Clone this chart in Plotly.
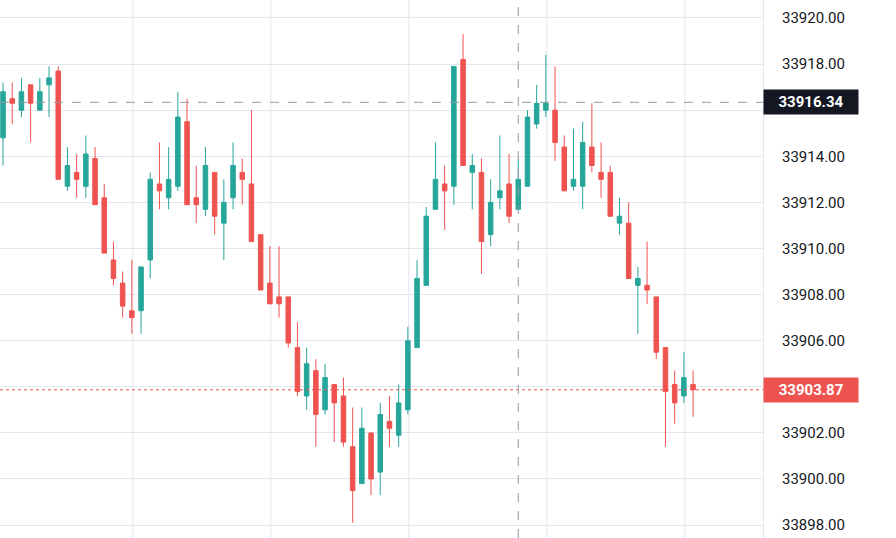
import plotly.graph_objects as go

# OHLC values (one per candle)
opens = [33914.8, 33916.5, 33916.0, 33917.1, 33916.0, 33917.1, 33917.7, 33912.7, 33913.3, 33912.7,
         33913.9, 33912.2, 33909.5, 33908.5, 33907.3, 33907.3, 33909.5, 33912.8, 33912.2, 33912.7,
         33915.5, 33912.2, 33911.7, 33913.3, 33911.1, 33912.2, 33913.3, 33912.8, 33910.6, 33908.5,
         33907.9, 33907.9, 33905.7, 33903.6, 33904.7, 33903.0, 33904.1, 33903.6, 33901.4, 33899.8,
         33902.0, 33900.3, 33902.5, 33901.9, 33903.0, 33905.7, 33908.4, 33911.7, 33912.8, 33912.7,
         33918.2, 33913.3, 33913.3, 33910.6, 33912.2, 33912.8, 33911.7, 33912.7, 33915.4, 33916.0,
         33916.0, 33914.4, 33912.7, 33912.7, 33914.4, 33913.3, 33913.3, 33911.1, 33911.1, 33908.4,
         33908.4, 33907.9, 33905.7, 33904.1, 33903.6, 33904.1]
highs = [33917.2, 33917.2, 33917.4, 33917.1, 33917.4, 33917.9, 33917.9, 33914.4, 33914.1, 33914.9,
         33914.4, 33912.8, 33910.3, 33909.0, 33909.5, 33909.2, 33913.3, 33914.6, 33914.4, 33916.8,
         33916.5, 33913.6, 33914.4, 33913.3, 33913.0, 33914.6, 33913.9, 33916.0, 33910.6, 33910.1,
         33910.1, 33907.9, 33906.8, 33905.7, 33905.2, 33905.0, 33904.1, 33904.4, 33903.1, 33903.1,
         33902.0, 33903.3, 33903.6, 33904.1, 33906.6, 33909.5, 33911.8, 33914.6, 33913.6, 33917.9,
         33919.3, 33914.1, 33913.9, 33913.0, 33914.9, 33914.1, 33913.9, 33916.0, 33917.1, 33918.4,
         33917.9, 33914.9, 33915.2, 33915.5, 33916.3, 33914.6, 33913.6, 33912.2, 33912.0, 33909.2,
         33910.3, 33907.9, 33905.7, 33904.7, 33905.5, 33904.7]
lows = [33913.6, 33915.4, 33915.7, 33914.6, 33916.0, 33915.7, 33913.0, 33912.5, 33912.2, 33912.2,
        33911.9, 33909.8, 33908.4, 33907.0, 33906.3, 33906.3, 33908.7, 33911.7, 33911.7, 33912.5,
        33911.9, 33911.1, 33911.4, 33910.6, 33909.5, 33911.7, 33911.9, 33910.3, 33908.2, 33907.6,
        33907.0, 33905.7, 33903.6, 33903.0, 33901.4, 33902.8, 33901.6, 33901.4, 33898.1, 33899.8,
        33899.3, 33899.3, 33901.4, 33901.4, 33902.8, 33905.7, 33908.4, 33911.7, 33910.8, 33911.9,
        33913.6, 33911.7, 33908.9, 33910.1, 33911.7, 33911.1, 33911.7, 33912.7, 33915.2, 33915.7,
        33913.8, 33912.5, 33912.5, 33911.7, 33913.3, 33912.2, 33911.4, 33910.6, 33908.7, 33906.3,
        33907.6, 33905.2, 33901.4, 33902.4, 33903.3, 33902.7]
closes = [33916.8, 33916.3, 33916.8, 33916.3, 33916.8, 33917.4, 33913.0, 33913.6, 33913.0, 33914.1,
          33911.9, 33909.8, 33908.7, 33907.5, 33907.0, 33909.2, 33913.0, 33912.5, 33913.0, 33915.7,
          33911.9, 33911.9, 33913.6, 33911.4, 33912.0, 33913.6, 33913.0, 33910.3, 33908.2, 33907.6,
          33907.6, 33905.9, 33903.8, 33905.0, 33902.8, 33904.4, 33903.3, 33901.6, 33899.5, 33902.2,
          33900.0, 33902.8, 33902.2, 33903.3, 33906.0, 33908.7, 33911.4, 33913.0, 33912.5, 33917.9,
          33913.6, 33913.6, 33910.3, 33912.0, 33912.5, 33911.4, 33913.0, 33915.7, 33916.3, 33916.3,
          33914.6, 33912.5, 33913.0, 33914.6, 33913.6, 33913.0, 33911.4, 33911.4, 33908.7, 33908.7,
          33908.2, 33905.5, 33903.8, 33903.3, 33904.4, 33903.87]

crosshair_price = 33916.34
crosshair_bar = 56
last_price = closes[-1]
price_ticks = [33898 + 2 * i for i in range(12)]
# labels hidden behind the price badges
price_labels = ["" if p in (33904, 33916) else "%.2f" % p for p in price_ticks]
time_grid = [14.1, 29.1, 44.1, 59.1, 74.1]

up = "#26a69a"
down = "#ef5350"
bars = list(range(len(opens)))

fig = go.Figure(go.Candlestick(
    x=bars, open=opens, high=highs, low=lows, close=closes,
    increasing=dict(line=dict(color=up, width=1), fillcolor=up),
    decreasing=dict(line=dict(color=down, width=1), fillcolor=down),
    whiskerwidth=0, showlegend=False, hoverinfo="skip",
))

# grid on the time axis
for g in time_grid:
    fig.add_vline(x=g, line=dict(color="#e3e6ec", width=1), layer="below")

# last price line and crosshair
fig.add_hline(y=last_price, line=dict(color=down, width=1, dash="dot"))
fig.add_hline(y=crosshair_price, line=dict(color="#9598a1", width=1, dash="dash"))
fig.add_vline(x=crosshair_bar, line=dict(color="#9598a1", width=1, dash="dash"))

for price, colour in [(crosshair_price, "#131722"), (last_price, down)]:
    fig.add_annotation(x=1, xref="paper", y=price, yref="y", xanchor="left",
                       text="<b>%.2f</b>" % price, showarrow=False,
                       width=90, height=20, align="center",
                       font=dict(color="white", size=15, family="Roboto"),
                       bgcolor=colour, borderpad=2)

fig.update_layout(
    width=896, height=538,
    margin=dict(l=0, r=133, t=0, b=0, autoexpand=False),
    plot_bgcolor="white", paper_bgcolor="white",
    font=dict(family="Roboto", size=15, color="#131722"),
)
fig.update_xaxes(range=[-0.33, 82.6], showgrid=False, showticklabels=False,
                 rangeslider_visible=False, zeroline=False)
fig.update_yaxes(side="right", range=[33897.44, 33920.78], tickvals=price_ticks,
                 ticktext=price_labels, gridcolor="#e3e6ec", zeroline=False,
                 ticks="", ticklabelstandoff=15, showline=True, linecolor="#e3e6ec")

# drop the page's default body margin so the chart sits at the window's corner
fig.write_html("out.html", config={"displayModeBar": False},
               post_script="document.body.style.margin='0';")
